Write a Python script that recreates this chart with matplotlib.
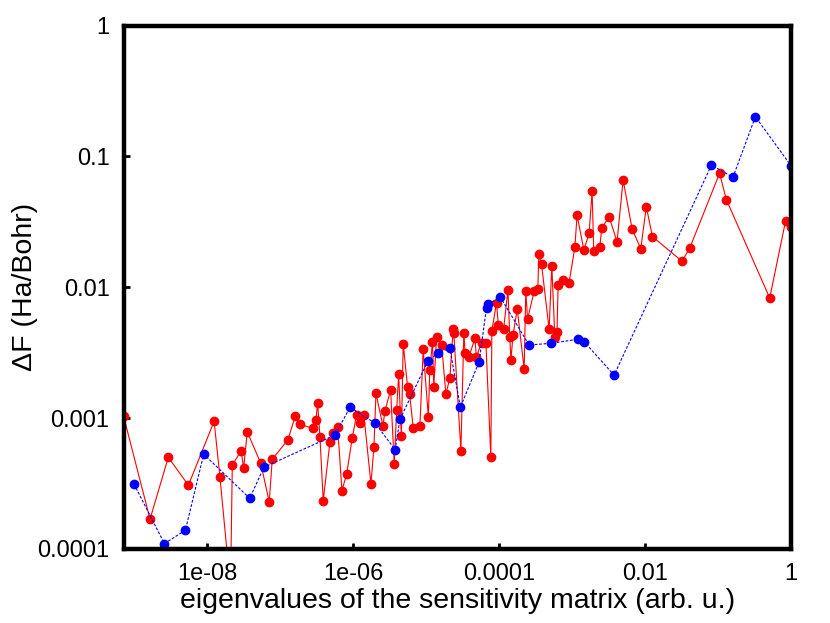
#!/usr/bin/env python3
# -*- coding: utf-8 -*-
"""Force error vs. sensitivity-matrix eigenvalue (log-log), two series."""
import matplotlib
matplotlib.use("Agg")
import matplotlib.pyplot as plt
from matplotlib.ticker import FixedLocator, FixedFormatter, NullLocator

plt.rcParams['font.family'] = ['Liberation Sans', 'DejaVu Sans']

# red series (solid line)
red_eig = [7.1e-10, 1.64e-9, 2.92e-9, 5.50e-9, 1.24e-8, 1.49e-8, 2.08e-8, 2.20e-8,
           2.90e-8, 3.15e-8, 3.53e-8, 5.40e-8, 7.06e-8, 7.76e-8, 1.27e-7, 1.60e-7,
           1.88e-7, 2.81e-7, 3.08e-7, 3.25e-7, 3.50e-7, 3.88e-7, 4.80e-7, 5.32e-7,
           6.11e-7, 7.00e-7, 8.13e-7, 9.68e-7, 1.11e-6, 1.24e-6, 1.40e-6, 1.75e-6,
           1.92e-6, 2.05e-6, 2.55e-6, 2.72e-6, 3.25e-6, 3.65e-6, 3.94e-6, 4.19e-6,
           4.57e-6, 4.84e-6, 5.56e-6, 5.93e-6, 6.64e-6, 8.20e-6, 9.10e-6, 1.07e-5,
           1.12e-5, 1.22e-5, 1.27e-5, 1.39e-5, 1.63e-5, 1.86e-5, 2.11e-5, 2.34e-5,
           2.39e-5, 2.99e-5, 3.28e-5, 3.42e-5, 3.85e-5, 4.65e-5, 4.88e-5, 5.74e-5,
           6.58e-5, 7.69e-5, 7.94e-5, 9.20e-5, 9.75e-5, 1.15e-4, 1.32e-4, 1.40e-4,
           1.45e-4, 1.55e-4, 1.77e-4, 2.20e-4, 2.32e-4, 2.45e-4, 3.03e-4, 3.39e-4,
           3.50e-4, 3.81e-4, 4.84e-4, 5.27e-4, 5.79e-4, 6.21e-4, 6.43e-4, 7.41e-4,
           9.08e-4, 1.09e-3, 1.17e-3, 1.45e-3, 1.71e-3, 1.88e-3, 1.98e-3, 2.39e-3,
           2.55e-3, 3.21e-3, 4.13e-3, 5.00e-3, 6.64e-3, 8.73e-3, 1.04e-2, 1.26e-2,
           3.21e-2, 4.09e-2, 0.105, 0.130, 0.511, 0.845, 1.0]
red_dF = [1.04e-3, 1.69e-4, 5.02e-4, 3.07e-4, 9.46e-4, 3.54e-4, 5.0e-5, 4.39e-4,
          5.61e-4, 4.17e-4, 7.85e-4, 4.52e-4, 2.29e-4, 4.85e-4, 6.81e-4, 1.03e-3,
          8.95e-4, 8.34e-4, 9.68e-4, 1.31e-3, 7.15e-4, 2.34e-4, 6.61e-4, 7.67e-4,
          8.61e-4, 2.79e-4, 3.75e-4, 7.02e-4, 1.06e-3, 9.14e-4, 1.05e-3, 3.14e-4,
          6.00e-4, 1.55e-3, 8.71e-4, 1.13e-3, 1.64e-3, 4.45e-4, 1.16e-3, 2.16e-3,
          7.31e-4, 3.69e-3, 1.73e-3, 1.53e-3, 8.39e-4, 8.71e-4, 3.36e-3, 1.02e-3,
          2.33e-3, 3.82e-3, 1.74e-3, 4.20e-3, 3.62e-3, 1.53e-3, 2.02e-3, 4.76e-3,
          4.50e-3, 5.65e-4, 4.50e-3, 3.13e-3, 2.94e-3, 4.06e-3, 2.94e-3, 3.78e-3,
          3.78e-3, 5.06e-4, 4.65e-3, 7.62e-3, 5.15e-3, 4.78e-3, 9.53e-3, 4.15e-3,
          2.79e-3, 4.32e-3, 6.83e-3, 2.38e-3, 9.42e-3, 5.70e-3, 9.42e-3, 9.66e-3,
          1.79e-2, 1.50e-2, 4.78e-3, 1.46e-2, 4.20e-3, 4.58e-3, 1.04e-2, 1.13e-2,
          1.08e-2, 2.02e-2, 3.55e-2, 1.93e-2, 2.58e-2, 5.44e-2, 1.88e-2, 2.02e-2,
          2.82e-2, 3.46e-2, 2.23e-2, 6.61e-2, 2.79e-2, 1.97e-2, 4.13e-2, 2.44e-2,
          1.58e-2, 1.99e-2, 7.43e-2, 4.67e-2, 8.28e-3, 3.23e-2, 2.90e-2]

# blue series (dashed line)
blue_eig = [9.9e-10, 2.58e-9, 5.00e-9, 8.93e-9, 3.81e-8, 5.98e-8, 5.66e-7, 9.02e-7,
            2.00e-6, 3.75e-6, 4.37e-6, 1.06e-5, 1.46e-5, 2.11e-5, 2.94e-5, 5.31e-5,
            6.71e-5, 7.06e-5, 1.04e-4, 2.57e-4, 5.10e-4, 1.21e-3, 1.46e-3, 3.76e-3,
            8.13e-2, 0.160, 0.325, 1.0]
blue_dF = [3.13e-4, 1.10e-4, 1.39e-4, 5.30e-4, 2.44e-4, 4.22e-4, 7.45e-4, 1.21e-3,
           9.14e-4, 5.74e-4, 9.81e-4, 2.74e-3, 3.15e-3, 3.42e-3, 1.21e-3, 2.69e-3,
           6.98e-3, 7.45e-3, 8.39e-3, 3.62e-3, 3.73e-3, 4.01e-3, 3.84e-3, 2.13e-3,
           8.59e-2, 6.92e-2, 0.201, 8.49e-2]

xticks = [1e-8, 1e-6, 1e-4, 1e-2, 1]
xticklabels = ["1e-08", "1e-06", "0.0001", "0.01", "1"]
yticks = [1e-4, 1e-3, 1e-2, 1e-1, 1]
yticklabels = ["0.0001", "0.001", "0.01", "0.1", "1"]

fig = plt.figure(figsize=(8.3, 6.23), dpi=100)
ax = fig.add_axes([0.1488, 0.1188, 0.8042, 0.8402])

ax.plot(red_eig, red_dF, "-", color="#ff0000", lw=0.8,
        marker="o", ms=6.0, mec="#ff0000", mfc="#ff0000", zorder=2)
ax.plot(blue_eig, blue_dF, "--", color="#0000ff", lw=0.8, dashes=(2.5, 1.5),
        marker="o", ms=6.0, mec="#0000ff", mfc="#0000ff", zorder=3)

ax.set_xscale("log")
ax.set_yscale("log")
ax.set_xlim(7.1e-10, 1)
ax.set_ylim(1e-4, 1)

ax.xaxis.set_major_locator(FixedLocator(xticks))
ax.xaxis.set_major_formatter(FixedFormatter(xticklabels))
ax.yaxis.set_major_locator(FixedLocator(yticks))
ax.yaxis.set_major_formatter(FixedFormatter(yticklabels))
ax.xaxis.set_minor_locator(NullLocator())
ax.yaxis.set_minor_locator(NullLocator())
ax.tick_params(direction="in", length=4, width=2, labelsize=17, pad=10)

for s in ax.spines.values():
    s.set_linewidth(3.2)
    s.set_zorder(5)

ax.set_xlabel("eigenvalues of the sensitivity matrix (arb. u.)", fontsize=20.5)
ax.set_ylabel("ΔF (Ha/Bohr)", fontsize=20.5)
ax.xaxis.set_label_coords(0.5, -0.074)
ax.yaxis.set_label_coords(-0.128, 0.5)

fig.savefig("out.png", dpi=100)
